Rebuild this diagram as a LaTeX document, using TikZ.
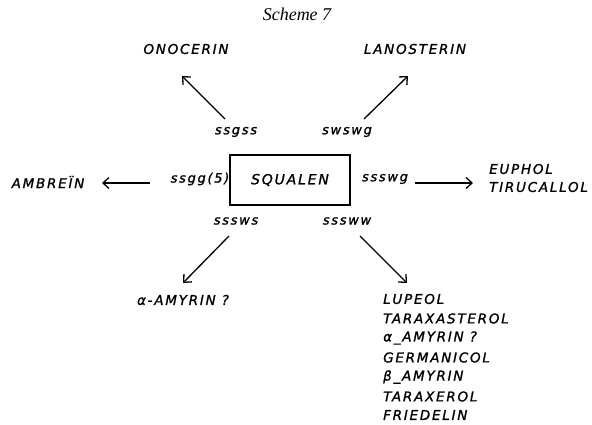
\documentclass[tikz,border=0pt]{standalone}
\usepackage{fontspec}
\setmainfont{Liberation Serif}
\newfontfamily\hand[LetterSpace=13,FakeBold=1.2]{DejaVu Sans}
\usetikzlibrary{arrows.meta}
\tikzset{
  hw/.style={font=\hand\itshape\fontsize{13.5}{15}\selectfont, inner sep=0pt},
  lab/.style={font=\hand\itshape\fontsize{13}{15}\selectfont, inner sep=0pt},
  arr/.style={line width=1.3pt, -{Straight Barb[length=6pt,width=11pt,line width=1.3pt]}},
  box/.style={draw, line width=1.1pt, minimum width=120pt, minimum height=50pt, inner sep=0pt}
}
\begin{document}
\begin{tikzpicture}[x=1pt,y=-1pt]
\useasboundingbox (0,0) rectangle (592,425);
\node[font=\itshape\fontsize{18}{20}\selectfont] (title) at (297,14) {Scheme 7};
% center
\node[box, font=\hand\itshape\fontsize{14}{15}\selectfont] (sq) at (290,180) {SQUALEN};
% labels
\node[lab] (l1) at (236,132) {ssgss};
\node[lab] (l2) at (347,132) {swswg};
\node[lab] (l3) at (200,179) {ssgg(5)};
\node[lab] (l4) at (385,179) {ssswg};
\node[lab] (l5) at (236,221) {sssws};
\node[lab] (l6) at (347,221) {sssww};
% products
\node[hw] (ono) at (186,49) {ONOCERIN};
\node[hw] (lano) at (415,49) {LANOSTERIN};
\node[hw] (amb) at (48,182) {AMBREÏN};
\node[hw, anchor=west] (eup) at (489,169) {EUPHOL};
\node[hw, anchor=west] (tir) at (489,187) {TIRUCALLOL};
\node[hw] (ama) at (183,300) {α-AMYRIN ?};
\node[hw, anchor=west] (p1) at (383,299) {LUPEOL};
\node[hw, anchor=west] (p2) at (383,318.5) {TARAXASTEROL};
\node[hw, anchor=west] (p3) at (383,338) {α\_AMYRIN ?};
\node[hw, anchor=west] (p4) at (383,357.5) {GERMANICOL};
\node[hw, anchor=west] (p5) at (383,377) {β\_AMYRIN};
\node[hw, anchor=west] (p6) at (383,396.5) {TARAXEROL};
\node[hw, anchor=west] (p7) at (383,415) {FRIEDELIN};
% arrow ends
\coordinate (a1s) at (225,119); \coordinate (a1e) at (182,76);
\coordinate (a2s) at (364,119); \coordinate (a2e) at (408,76);
\coordinate (a3s) at (150,183); \coordinate (a3e) at (102,183);
\coordinate (a4s) at (415,183); \coordinate (a4e) at (473,183);
\coordinate (a5s) at (229,236); \coordinate (a5e) at (183,283);
\coordinate (a6s) at (360,236); \coordinate (a6e) at (407,283);
\draw[arr] (a1s) -- (a1e);
\draw[arr] (a2s) -- (a2e);
\draw[arr] (a3s) -- (a3e);
\draw[arr] (a4s) -- (a4e);
\draw[arr] (a5s) -- (a5e);
\draw[arr] (a6s) -- (a6e);
\end{tikzpicture}
\end{document}
